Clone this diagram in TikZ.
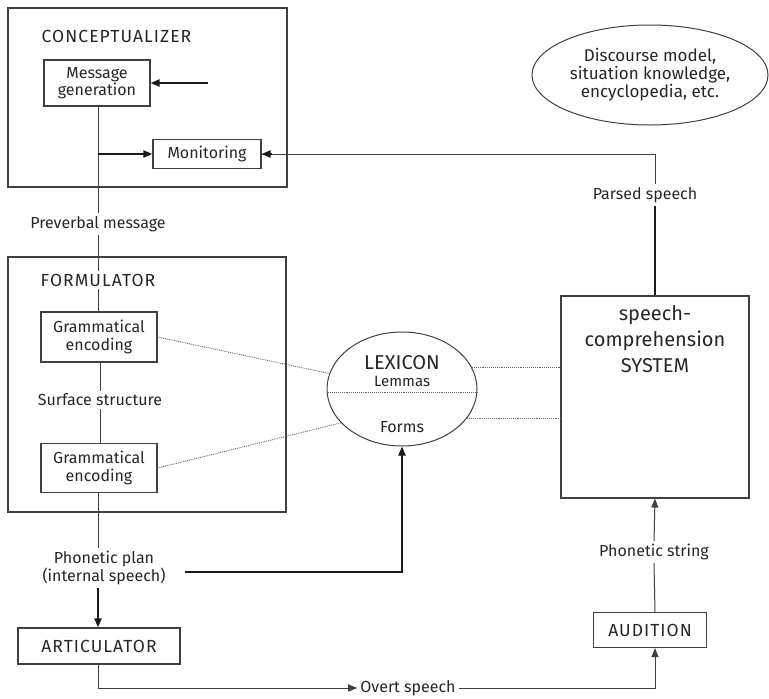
\documentclass[tikz,border=0pt]{standalone}
\usepackage{fontspec}
\setmainfont{Fira Sans}
\usetikzlibrary{arrows.meta}
\usetikzlibrary{shapes.geometric}

\begin{document}
\begin{tikzpicture}[x=1pt,y=-1pt,font=\fontsize{16}{17.5}\selectfont,text=black!85,
    box/.style={rectangle,draw=black!75,line width=1.1pt,align=center,inner sep=2pt},
    tag/.style={align=center,inner sep=3pt},
    caps/.style={font=\fontsize{17.5}{19}\selectfont\addfontfeature{LetterSpace=6}},
    thinline/.style={draw=black!75,line width=1pt},
    thickline/.style={draw=black!90,line width=2pt},
    dotline/.style={draw=black!60,line width=0.9pt,densely dotted},
    >={Triangle[length=9pt,width=7pt]}]
\useasboundingbox (0,0) rectangle (769,699);

% big boxes
\begin{scope}[every node/.style={box,inner sep=0pt}]
    \node (Conceptualizer) at (147.5,97.5) [minimum width=279pt,minimum height=179pt] {};
    \node (Formulator) at (147,384.5) [minimum width=278pt,minimum height=255pt] {};
    \node (SpeechComp) at (655,397) [minimum width=188pt,minimum height=202pt] {};
\end{scope}

% small boxes
\begin{scope}[every node/.style={box}]
    \node (MessageGen) at (97,83) [minimum width=106pt,minimum height=46pt,font=\fontsize{16}{16.5}\selectfont] {Message\\generation};
    \node (Monitoring) at (207,154) [minimum width=108pt,minimum height=29pt] {Monitoring};
    \node (GramEncA) at (99,337) [minimum width=116pt,minimum height=50pt] {Grammatical\\encoding};
    \node (GramEncB) at (99,468) [minimum width=116pt,minimum height=49pt] {Grammatical\\encoding};
    \node (Articulator) at (99,646) [minimum width=162pt,minimum height=36pt,caps] {ARTICULATOR};
    \node (Audition) at (650,630) [minimum width=113pt,minimum height=35pt,caps] {AUDITION};
\end{scope}

% ellipses
\node[ellipse,draw=black!75,line width=1pt,minimum width=150pt,minimum height=114pt] (Lexicon) at (402,389) {};
\node[ellipse,draw=black!75,line width=1pt,minimum width=236pt,minimum height=100pt,align=center,inner sep=0pt,
      font=\fontsize{17}{18}\selectfont] (Discourse) at (650,75) {Discourse model,\\situation knowledge,\\encyclopedia, etc.};

% labels
\begin{scope}[every node/.style={tag}]
    \node[caps] (ConcLabel) at (116.5,36) {CONCEPTUALIZER};
    \node[caps] (FormLabel) at (98,280) {FORMULATOR};
    \node (Preverbal) at (98,224) {Preverbal message};
    \node (Surface) at (100,400) {Surface structure};
    \node (PhonPlan) at (104,568) {Phonetic plan\\(internal speech)};
    \node (Overt) at (408,688) {Overt speech};
    \node (PhonString) at (654,552) {Phonetic string};
    \node (Parsed) at (645,195) {Parsed speech};
    \node[font=\fontsize{20}{26}\selectfont] (SysLabel) at (655,339) {speech-\\comprehension\\SYSTEM};
    \node[font=\fontsize{20}{22}\selectfont] (LexLabel) at (402,363) {LEXICON};
    \node[font=\fontsize{15}{16}\selectfont] (Lemmas) at (402,381) {Lemmas};
    \node (Forms) at (402,427) {Forms};
\end{scope}

\coordinate (MsgIn) at (208,83);
\coordinate (MonTap) at (98,154);

% connectors
\draw [thickline,->] (MsgIn) -- (MessageGen.east);
\draw [thinline] (MessageGen.south -| Preverbal.north) -- (Preverbal.north);
\draw [thickline,->] (MonTap) -- (Monitoring.west);
\draw [thinline] (Parsed.north -| SpeechComp.north) |- (Monitoring.east);
\draw [thickline,->] ([xshift=10pt]Monitoring.east) -- (Monitoring.east);
\draw [thickline] (Parsed.south -| SpeechComp.north) -- (SpeechComp.north);
\draw [thinline] (Preverbal.south) -- (FormLabel.north);
\draw [thinline] (FormLabel.south) -- (FormLabel.south |- GramEncA.north);
\draw [thinline] (GramEncA.south -| Surface.north) -- (Surface.north);
\draw [thinline] (Surface.south) -- (Surface.south |- GramEncB.north);
\draw [thinline] (GramEncB.south -| Preverbal.south) -- (PhonPlan.north -| Preverbal.south);
\draw [thickline,->] (PhonPlan.south -| Preverbal.south) -- (Articulator.north -| Preverbal.south);
\draw [thickline,->] ([xshift=16pt,yshift=-4pt]PhonPlan.east) -| (Lexicon.south);
\draw [thinline,->] (Articulator.south -| Preverbal.south) |- (Overt.west);
\draw [thinline,->] (Overt.east) -| (Audition.south -| SpeechComp.south);
\draw [thinline] (Audition.north -| SpeechComp.south) -- (PhonString.south);
\draw [thinline,->] (PhonString.north) -- (SpeechComp.south);

% lexicon links
\draw [dotline] ([yshift=-3pt]Lexicon.west) -- ([yshift=-3pt]Lexicon.east);
\draw [dotline] (GramEncA.east) -- (Lexicon);
\draw [dotline] (GramEncB.east) -- (Lexicon.209);
\draw [dotline] (Lexicon.17) -- (Lexicon.17 -| SpeechComp.west);
\draw [dotline] (Lexicon.-24) -- (Lexicon.-24 -| SpeechComp.west);

\end{tikzpicture}
\end{document}
